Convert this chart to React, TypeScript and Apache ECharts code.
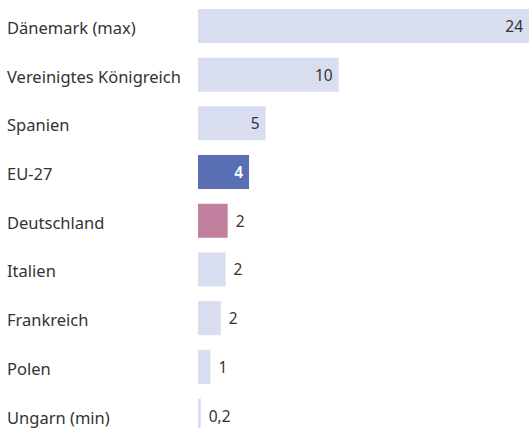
import React, { useEffect, useRef } from "react";
import * as echarts from "echarts";

const categories = [
  "Dänemark (max)",
  "Vereinigtes Königreich",
  "Spanien",
  "EU-27",
  "Deutschland",
  "Italien",
  "Frankreich",
  "Polen",
  "Ungarn (min)",
];
const values = [24, 10.2, 4.9, 3.7, 2.15, 2.0, 1.65, 0.9, 0.2];
const valueLabels = ["24", "10", "5", "4", "2", "2", "2", "1", "0,2"];

const LIGHT = "#d9ddf0";
const EU = "#5a6eb6";
const DE = "#c1819e";
const TEXT = "#333333";

export default function App() {
  const ref = useRef<HTMLDivElement>(null);
  useEffect(() => {
    if (!ref.current) return;
    const chart = echarts.init(ref.current, undefined, { renderer: "svg" });
    const data = values.map((v, i) => {
      const inside = i < 4;
      const color = categories[i] === "EU-27" ? EU : categories[i] === "Deutschland" ? DE : LIGHT;
      return {
        value: v,
        itemStyle: { color },
        label: {
          show: true,
          position: inside ? "insideRight" : "right",
          distance: inside ? 6 : 8,
          color: categories[i] === "EU-27" ? "#ffffff" : TEXT,
          fontWeight: categories[i] === "EU-27" ? 600 : "normal",
          formatter: () => valueLabels[i],
        },
      };
    });
    chart.setOption({
      animation: false,
      grid: { left: 198, right: 0, top: 1.6, height: 438.3, containLabel: false },
      xAxis: {
        type: "value",
        min: 0,
        max: 24,
        show: false,
      },
      yAxis: {
        type: "category",
        data: categories,
        inverse: true,
        axisLine: { show: false },
        axisTick: { show: false },
        axisLabel: {
          align: "left",
          margin: 191,
          formatter: (v: string) => `{c|${v}}`,
          rich: {
            c: {
              color: TEXT,
              fontSize: 16.5,
              fontFamily: "Noto Sans",
              padding: [3, 0, 0, 0],
            },
          },
        },
      },
      series: [
        {
          type: "bar",
          data,
          barWidth: 34,
          label: { fontSize: 15.5, fontFamily: "Noto Sans" },
        },
      ],
    });
    return () => chart.dispose();
  }, []);
  return (
    <div style={{ width: 529, height: 428, position: "absolute", left: 0, top: 0, overflow: "hidden" }}>
      <div ref={ref} style={{ width: 529, height: 445 }} />
    </div>
  );
}
